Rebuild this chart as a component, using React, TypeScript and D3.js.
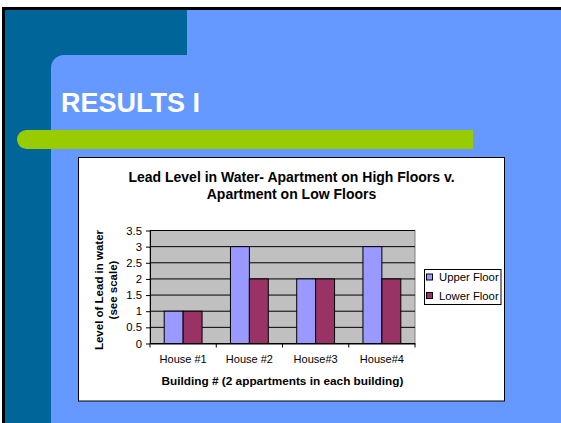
import React, { useRef, useEffect } from "react";
import * as d3 from "d3";

const categories = ["House #1", "House #2", "House#3", "House#4"];
const seriesNames = ["Upper Floor", "Lower Floor"];
const upperFloor = [1, 3, 2, 3];
const lowerFloor = [1, 2, 2, 2];
const yTicks = [0, 0.5, 1, 1.5, 2, 2.5, 3, 3.5];
const seriesColors = ["#9999FF", "#993366"];

const W = 561;
const H = 423;
const FONT = "Arial, 'Liberation Sans', sans-serif";

const App = () => {
  const svgRef = useRef<SVGSVGElement>(null);

  useEffect(() => {
    const svg = d3.select(svgRef.current);
    svg.selectAll("*").remove();

    // slide background
    svg.append("rect").attr("width", W).attr("height", H).attr("fill", "#fff");
    svg.append("rect").attr("x", 2).attr("y", 7).attr("width", W).attr("height", H).attr("fill", "#000");
    svg.append("rect").attr("x", 5).attr("y", 10).attr("width", W).attr("height", H).attr("fill", "#006699");
    svg.append("rect").attr("x", 187).attr("y", 10).attr("width", W).attr("height", H).attr("fill", "#6699FF");
    svg.append("rect").attr("x", 51).attr("y", 55).attr("width", W).attr("height", H)
      .attr("rx", 13).attr("fill", "#6699FF");

    // green rule
    svg.append("path")
      .attr("d", "M26.5,130 H473 V149 H26.5 A9.5,9.5 0 0 1 26.5,130 Z")
      .attr("fill", "#99CC00");

    svg.append("text")
      .attr("x", 61).attr("y", 112)
      .attr("font-family", FONT).attr("font-size", 27).attr("font-weight", "bold")
      .attr("fill", "#fff")
      .text("RESULTS I");

    // chart box
    svg.append("rect")
      .attr("x", 78.5).attr("y", 157.5).attr("width", 426).attr("height", 243.5)
      .attr("fill", "#fff").attr("stroke", "#000");

    const titleLines = ["Lead Level in Water- Apartment on High Floors v.", "Apartment on Low Floors"];
    svg.append("g").selectAll("text")
      .data(titleLines)
      .enter()
      .append("text")
      .attr("x", 291.5)
      .attr("y", (d, i) => 182 + i * 17)
      .attr("text-anchor", "middle")
      .attr("font-family", FONT).attr("font-size", 14).attr("font-weight", "bold")
      .text(d => d);

    // scales
    const plot = { left: 150, right: 415, top: 230.5, bottom: 343.5 };
    const x0 = d3.scaleBand().domain(categories).range([plot.left, plot.right]);
    const x1 = d3.scaleBand().domain(seriesNames).range([0, x0.bandwidth()]).paddingOuter(0.75);
    const y = d3.scaleLinear().domain([0, 3.5]).range([plot.bottom, plot.top]);

    svg.append("rect")
      .attr("x", plot.left).attr("y", plot.top)
      .attr("width", plot.right - plot.left).attr("height", plot.bottom - plot.top)
      .attr("fill", "#C0C0C0").attr("stroke", "#808080");

    // gridlines
    svg.append("g").selectAll("line")
      .data(yTicks)
      .enter()
      .append("line")
      .attr("x1", plot.left).attr("x2", plot.right)
      .attr("y1", d => y(d)).attr("y2", d => y(d))
      .attr("stroke", "#000");

    // bars
    const rows = categories.map((c, i) => ({ c, values: [upperFloor[i], lowerFloor[i]] }));
    const groups = svg.append("g").selectAll("g")
      .data(rows)
      .enter()
      .append("g")
      .attr("transform", d => `translate(${x0(d.c)},0)`);
    groups.selectAll("rect")
      .data(d => d.values.map((v, j) => ({ name: seriesNames[j], v, j })))
      .enter()
      .append("rect")
      .attr("x", d => x1(d.name)!)
      .attr("y", d => y(d.v))
      .attr("width", x1.bandwidth())
      .attr("height", d => y(0) - y(d.v))
      .attr("fill", d => seriesColors[d.j])
      .attr("stroke", "#000");

    // y axis
    const yAxis = svg.append("g")
      .attr("transform", `translate(${plot.left},0)`)
      .call(d3.axisLeft(y).tickValues(yTicks).tickSize(4).tickSizeOuter(0).tickPadding(4).tickFormat(d => String(d)));
    yAxis.attr("font-family", FONT).attr("font-size", 11.3);
    yAxis.selectAll("text").attr("fill", "#000");

    // x axis
    const xAxis = svg.append("g")
      .attr("transform", `translate(0,${plot.bottom})`)
      .call(d3.axisBottom(x0).tickSize(0).tickPadding(11.5));
    xAxis.attr("font-family", FONT).attr("font-size", 11);
    xAxis.selectAll("text").attr("fill", "#000");
    xAxis.append("g").selectAll("line")
      .data([...categories.map(c => x0(c)!), plot.right])
      .enter()
      .append("line")
      .attr("x1", d => d).attr("x2", d => d)
      .attr("y1", 0).attr("y2", 4)
      .attr("stroke", "#000");

    // axis titles
    svg.append("text")
      .attr("x", (plot.left + plot.right) / 2).attr("y", 385)
      .attr("text-anchor", "middle")
      .attr("font-family", FONT).attr("font-size", 11.8).attr("font-weight", "bold")
      .text("Building # (2 appartments in each building)");

    const yTitle = ["Level of Lead in water", "(see scale)"];
    svg.append("g").selectAll("text")
      .data(yTitle)
      .enter()
      .append("text")
      .attr("transform", (d, i) => `translate(${102.5 + i * 14},290) rotate(-90)`)
      .attr("text-anchor", "middle")
      .attr("font-family", FONT).attr("font-size", 11.5).attr("font-weight", "bold")
      .text(d => d);

    // legend
    const legend = svg.append("g");
    legend.append("rect")
      .attr("x", 424.5).attr("y", 269.5).attr("width", 76.5).attr("height", 35)
      .attr("fill", "#fff").attr("stroke", "#000");
    const items = legend.selectAll("g.item")
      .data(seriesNames)
      .enter()
      .append("g")
      .attr("class", "item")
      .attr("transform", (d, i) => `translate(0,${277 + i * 18.5})`);
    items.append("rect")
      .attr("x", 426.5).attr("y", -3).attr("width", 6).attr("height", 6)
      .attr("fill", (d, i) => seriesColors[i]).attr("stroke", "#000");
    items.append("text")
      .attr("x", 439).attr("y", 4)
      .attr("font-family", FONT).attr("font-size", 11.3)
      .text(d => d);
  }, []);

  return (
    <svg ref={svgRef} width={W} height={H} style={{ position: "absolute", left: 0, top: 0, display: "block" }}>
      {/* drawn in useEffect */}
    </svg>
  );
};

export default App;
